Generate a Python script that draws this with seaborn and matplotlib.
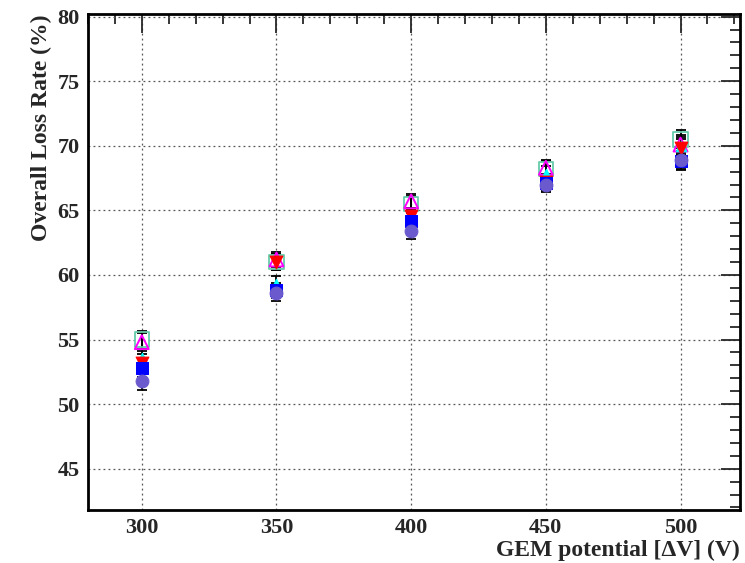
import matplotlib
matplotlib.use("Agg")
import matplotlib.pyplot as plt
import seaborn as sns
import pandas as pd
from matplotlib.ticker import MultipleLocator

voltage = [300, 350, 400, 450, 500]

# loss rate (%) per series
sq_open = [55.0, 61.0, 65.5, 68.2, 70.5]
tri_open = [54.8, 61.2, 65.7, 68.3, 70.1]
tri_cyan = [53.6, 59.3, 63.8, 67.8, 70.0]
tri_red = [53.2, 61.0, 64.6, 67.2, 69.8]
sq_blue = [52.8, 58.8, 64.2, 67.1, 68.8]
circ = [51.8, 58.6, 63.4, 67.0, 68.9]
err = [0.7, 0.6, 0.6, 0.6, 0.7]

series = {
    "sq_open": sq_open,
    "tri_open": tri_open,
    "tri_cyan": tri_cyan,
    "tri_red": tri_red,
    "sq_blue": sq_blue,
    "circ": circ,
}
styles = {
    "sq_open": dict(marker="s", s=110, facecolor="none", edgecolor="#66ccaa", linewidth=1.3),
    "tri_open": dict(marker="^", s=100, facecolor="none", edgecolor="magenta", linewidth=1.4),
    "tri_cyan": dict(marker="^", s=60, facecolor="cyan", edgecolor="cyan"),
    "tri_red": dict(marker="v", s=85, facecolor="red", edgecolor="red"),
    "sq_blue": dict(marker="s", s=85, facecolor="blue", edgecolor="blue"),
    "circ": dict(marker="o", s=85, facecolor="#6a5acd", edgecolor="#6a5acd"),
}

rows = []
for name, vals in series.items():
    for v, r, e in zip(voltage, vals, err):
        rows.append({"series": name, "voltage": v, "rate": r, "err": e})
df = pd.DataFrame(rows)

sns.set_style("white")
plt.rcParams["font.family"] = ["Liberation Serif", "DejaVu Serif"]
plt.rcParams["font.weight"] = "bold"

fig, ax = plt.subplots(figsize=(7.45, 5.63), dpi=100)

# error bars first, markers on top
ax.errorbar(df["voltage"], df["rate"], yerr=df["err"], fmt="none",
            ecolor="black", elinewidth=1.3, capsize=3.5, capthick=1.3, zorder=2)

for name in series:
    sub = df[df["series"] == name]
    sns.scatterplot(data=sub, x="voltage", y="rate", ax=ax, zorder=3,
                    legend=False, **styles[name])

ax.set_xlim(280, 522)
ax.set_ylim(41.8, 80.2)
ax.xaxis.set_major_locator(MultipleLocator(50))
ax.xaxis.set_minor_locator(MultipleLocator(10))
ax.yaxis.set_major_locator(MultipleLocator(5))
ax.yaxis.set_minor_locator(MultipleLocator(1))
ax.grid(True, which="major", linestyle=(0, (1.5, 2.5)), color="#555555", linewidth=0.9)

ax.tick_params(which="both", direction="in", top=True, right=True,
               labelsize=16, width=1.3)
ax.tick_params(which="major", length=14, pad=6)
ax.tick_params(which="minor", length=7)
for lbl in ax.get_xticklabels() + ax.get_yticklabels():
    lbl.set_fontweight("bold")
for sp in ax.spines.values():
    sp.set_linewidth(2)
    sp.set_color("black")

ax.set_xlabel("GEM potential [\u0394V] (V)", fontsize=17, fontweight="bold",
              loc="right", labelpad=1)
ax.set_ylabel("Overall Loss Rate (%)", fontsize=17, fontweight="bold",
              loc="top", labelpad=4)

fig.subplots_adjust(left=0.118, right=0.993, top=0.975, bottom=0.094)
fig.savefig("out.png", dpi=100)
